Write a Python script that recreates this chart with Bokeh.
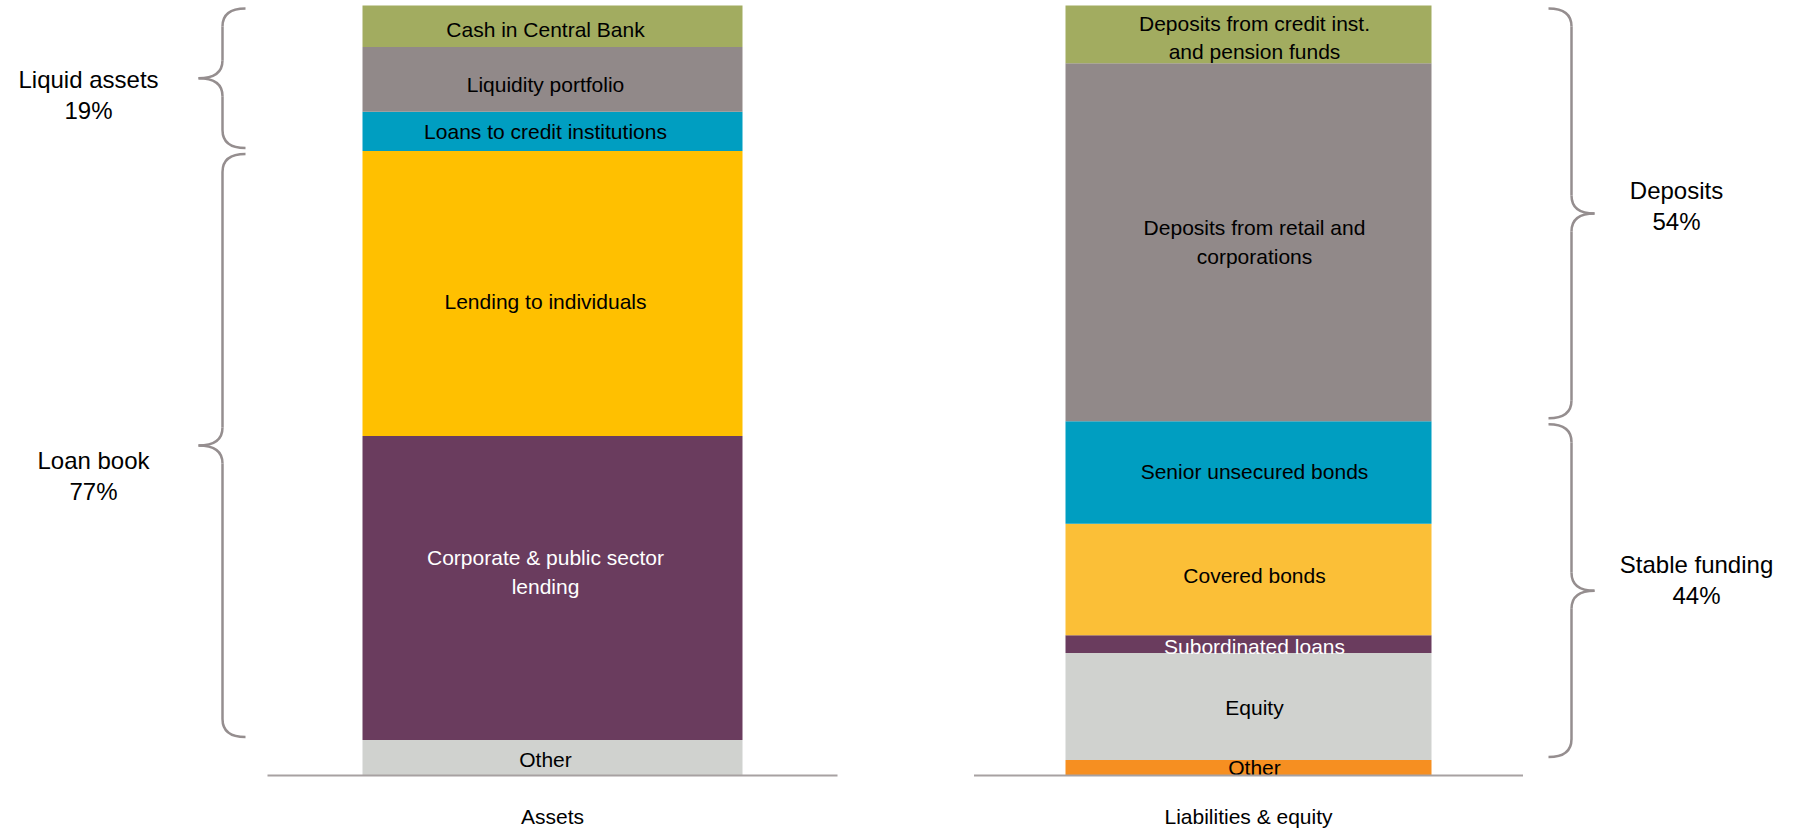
from bokeh.plotting import figure
from bokeh.models import ColumnDataSource, Range1d
from bokeh.embed import file_html
from bokeh.resources import INLINE
from bokeh.core.properties import value

# ---------------- data ----------------
categories = ["Assets", "Liabilities & equity"]

asset_items = ["Other", "Corporate & public sector\nlending", "Lending to individuals",
               "Loans to credit institutions", "Liquidity portfolio", "Cash in Central Bank"]
asset_shares = [4.6, 39.5, 37.0, 5.1, 8.4, 5.4]

liab_items = ["Other", "Equity", "Subordinated loans", "Covered bonds",
              "Senior unsecured bonds", "Deposits from retail and\ncorporations",
              "Deposits from credit inst.\nand pension funds"]
liab_shares = [2.0, 13.9, 2.3, 14.5, 13.3, 46.5, 7.5]

asset_groups = ["Loan book", "Liquid assets"]
asset_group_pct = [77, 19]
asset_group_members = [[1, 2], [3, 4, 5]]

liab_groups = ["Stable funding", "Deposits"]
liab_group_pct = [44, 54]
liab_group_members = [[1, 2, 3, 4], [5, 6]]

# ---------------- styles / layout ----------------
asset_colors = ["#D0D2CF", "#6A3C5E", "#FFC000", "#009EC1", "#918989", "#A2AC60"]
asset_text_colors = ["#000000", "#FFFFFF", "#000000", "#000000", "#000000", "#000000"]
asset_label_dy = [2, -16, 8, 0, 5, 3]

liab_colors = ["#F68F21", "#D0D2CF", "#6A3C5E", "#FBBF37", "#009EC1", "#918989", "#A2AC60"]
liab_text_colors = ["#000000", "#000000", "#FFFFFF", "#000000", "#000000", "#000000", "#000000"]
liab_label_dy = [0, 1, 2, -4, -1, 0, 3]

W, H = 1790, 832
BASE_SY = 775.0          # canvas pixel (from top) where value 0 sits
TOP_SY = 5.0             # canvas pixel where value 100 sits
ppu = (BASE_SY - TOP_SY) / 100.0
y_start = -(H - BASE_SY) / ppu
y_end = 100 + TOP_SY / ppu

bar_x = [552, 1248]
bar_w = [380, 366]
label_dx = [-7, 6]

brace_geom = [dict(end=245, line=222, tip=198), dict(end=1548, line=1571, tip=1594)]
group_label_x = [[93, 88], [1696, 1676]]
group_label_dy = [[30, 17], [-11, -7]]
R_PX = 18
GAP_PX = 3
CAT_CENTER_SY = 816

BRACE_COLOR = "#958E8F"
BASE_COLOR = "#A7A1A2"
FONT = "Liberation Sans"

p = figure(width=W, height=H, output_backend="svg", toolbar_location=None,
           x_range=Range1d(0, W), y_range=Range1d(y_start, y_end),
           min_border=0, min_border_left=0, min_border_right=0,
           min_border_top=0, min_border_bottom=0)
p.axis.visible = False
p.grid.visible = False
p.outline_line_color = None
p.background_fill_color = "white"
p.border_fill_color = "white"

stacks = [(asset_items, asset_shares, asset_colors, asset_text_colors, asset_label_dy,
           asset_groups, asset_group_pct, asset_group_members),
          (liab_items, liab_shares, liab_colors, liab_text_colors, liab_label_dy,
           liab_groups, liab_group_pct, liab_group_members)]

for i, (items, shares, colors, tcolors, ldy, groups, gpct, gmem) in enumerate(stacks):
    bottoms, tops = [], []
    acc = 0.0
    for s in shares:
        bottoms.append(acc)
        acc += s
        tops.append(acc)
    src = ColumnDataSource(dict(
        x=[bar_x[i]] * len(shares), bottom=bottoms, top=tops, color=colors,
        mid=[(b + t) / 2 for b, t in zip(bottoms, tops)], label=items,
        tcolor=tcolors, dy=ldy, dx=[label_dx[i]] * len(shares)))
    p.vbar(x="x", width=bar_w[i], bottom="bottom", top="top", fill_color="color",
           line_color=None, source=src)
    p.text(x="x", y="mid", text="label", text_color="tcolor", x_offset="dx", y_offset="dy",
           text_align="center", text_baseline="middle", text_line_height=1.25,
           text_font=value(FONT), text_font_size=value("21px"), source=src)

    # baseline
    p.segment(x0=[bar_x[i] - 0.75 * bar_w[i]], x1=[bar_x[i] + 0.75 * bar_w[i]],
              y0=[0], y1=[0], line_color=BASE_COLOR, line_width=2)

    # category label
    p.text(x=[bar_x[i]], y=[-(CAT_CENTER_SY - BASE_SY) / ppu], text=[categories[i]],
           text_align="center", text_baseline="middle", text_color="#000000",
           text_font=value(FONT), text_font_size=value("21px"))

    # braces
    g = brace_geom[i]
    qx0, qy0, qx1, qy1, qcx, qcy = [], [], [], [], [], []
    sx0, sy0, sx1, sy1 = [], [], [], []
    lx, ly, lt, ldys = [], [], [], []
    ry = R_PX / ppu
    gap = GAP_PX / ppu
    for k, mem in enumerate(gmem):
        y0 = bottoms[min(mem)] + gap
        y1 = tops[max(mem)] - gap
        ym = (y0 + y1) / 2
        e, l, t = g["end"], g["line"], g["tip"]
        curves = [((e, y1), (l, y1 - ry), (l, y1)),
                  ((l, ym + ry), (t, ym), (l, ym)),
                  ((t, ym), (l, ym - ry), (l, ym)),
                  ((l, y0 + ry), (e, y0), (l, y0))]
        for (a, b, c) in curves:
            qx0.append(a[0]); qy0.append(a[1]); qx1.append(b[0]); qy1.append(b[1])
            qcx.append(c[0]); qcy.append(c[1])
        sx0 += [l, l]; sx1 += [l, l]
        sy0 += [y1 - ry, ym - ry]; sy1 += [ym + ry, y0 + ry]
        lx.append(group_label_x[i][k]); ly.append(ym)
        lt.append(f"{groups[k]}\n{gpct[k]}%"); ldys.append(group_label_dy[i][k])
    p.quadratic(x0=qx0, y0=qy0, x1=qx1, y1=qy1, cx=qcx, cy=qcy,
                line_color=BRACE_COLOR, line_width=2.5)
    p.segment(x0=sx0, y0=sy0, x1=sx1, y1=sy1, line_color=BRACE_COLOR, line_width=2.5)
    gsrc = ColumnDataSource(dict(x=lx, y=ly, text=lt, dy=ldys))
    p.text(x="x", y="y", text="text", y_offset="dy", source=gsrc,
           text_align="center", text_baseline="middle", text_line_height=1.15,
           text_color="#000000", text_font=value(FONT), text_font_size=value("24px"))

open("out.html", "w").write(file_html(p, INLINE))
